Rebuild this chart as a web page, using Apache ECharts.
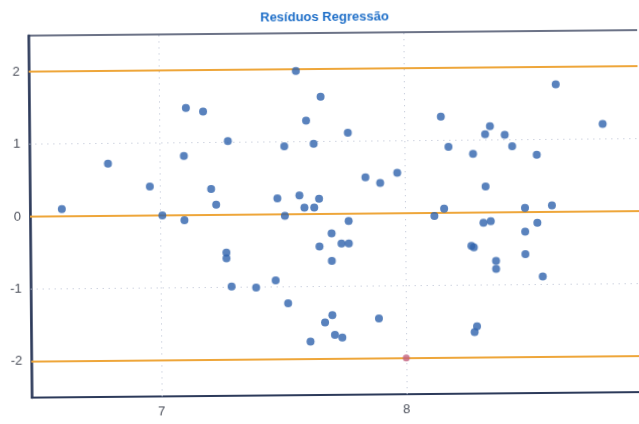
<!DOCTYPE html>
<html>
<head>
<meta charset="utf-8">
<script src="https://cdn.jsdelivr.net/npm/echarts@6/dist/echarts.min.js"></script>
<style>
  html, body { margin: 0; padding: 0; background: #fff; overflow: hidden; }
  #chart { width: 639px; height: 424px; transform: rotate(-0.52deg); transform-origin: 50% 50%; }
</style>
</head>
<body>
<div id="chart"></div>
<script>
// Regression residuals: fitted value (x) vs residual (y)
const fittedX = [
  6.60, 6.79, 6.96, 7.01, 7.10, 7.11, 7.10, 7.18, 7.21, 7.23,
  7.28, 7.48, 7.51, 7.51, 7.56, 7.57, 7.59, 7.60, 7.63, 7.63,
  7.65, 7.66, 7.27, 7.27, 7.29, 7.39, 7.47, 7.52, 7.61, 7.65,
  7.77, 7.84, 7.90, 7.97, 8.15, 8.18, 8.28, 8.33, 8.35, 8.41,
  8.44, 8.54, 8.62, 8.81, 8.33, 8.12, 8.16, 8.49, 8.60, 7.77,
  8.32, 8.35, 8.54, 7.70, 7.74, 7.77, 7.70, 7.70, 7.67, 7.71,
  7.74, 7.89, 8.27, 8.28, 8.37, 8.37, 8.49, 8.49, 8.56, 8.29,
  8.28
];
const residuals = [
  0.10, 0.72, 0.40, 0.00, -0.07, 1.48, 0.82, 1.43, 0.36, 0.14,
  1.02, 0.22, 0.94, -0.02, 1.98, 0.26, 0.09, 1.29, 0.97, 0.09,
  0.21, 1.62, -0.52, -0.60, -0.99, -1.01, -0.91, -1.23, -1.76, -0.45,
  1.12, 0.50, 0.42, 0.56, 1.33, 0.91, 0.81, 1.08, 1.19, 1.07,
  0.91, 0.79, 1.76, 1.21, 0.36, -0.04, 0.06, 0.06, 0.09, -0.10,
  -0.14, -0.12, -0.15, -0.27, -0.41, -0.41, -0.65, -1.40, -1.50, -1.67,
  -1.71, -1.45, -0.46, -0.48, -0.67, -0.78, -0.27, -0.58, -0.89, -1.57,
  -1.65
];
// Highlighted observation
const highlightX = [8.0];
const highlightY = [-2.0];

// Reference lines (residual limits and zero) and dotted grid positions
const limitLines = [2, 0, -2];
const gridY = [1, -1];
const gridX = [7, 8];
const yTicks = [-2, -1, 0, 1, 2];
const xTicks = [7, 8];

const points = fittedX.map((x, i) => [x, residuals[i]]);
const highlight = highlightX.map((x, i) => [x, highlightY[i]]);

const chart = echarts.init(document.getElementById('chart'), null, { renderer: 'canvas' });
const labelStyle = { color: '#4c505b', fontSize: 13, fontFamily: 'Liberation Sans, Arial, sans-serif' };

chart.setOption({
  animation: false,
  backgroundColor: '#ffffff',
  title: {
    text: 'Resíduos Regressão',
    left: 257,
    top: 6,
    textStyle: { color: '#1f6fc8', fontSize: 13, fontWeight: 'bold', fontFamily: 'Liberation Sans, Arial, sans-serif' }
  },
  grid: {
    left: 30, top: 33, width: 620, height: 362,
    outerBoundsMode: 'none',
    containLabel: false,
    show: true, borderColor: '#3c4560', borderWidth: 1.3, backgroundColor: 'transparent'
  },
  xAxis: {
    type: 'value', min: 6.47, max: 9.0,
    axisLine: { show: true, onZero: false, lineStyle: { color: '#2c3a5a', width: 2 } },
    axisTick: { show: false },
    splitLine: { show: false },
    axisLabel: { ...labelStyle, margin: 9, customValues: xTicks }
  },
  yAxis: {
    type: 'value', min: -2.5, max: 2.5,
    axisLine: { show: true, onZero: false, lineStyle: { color: '#2c3a5a', width: 2.5 } },
    axisTick: { show: false },
    splitLine: { show: false },
    axisLabel: { ...labelStyle, margin: 9, customValues: yTicks }
  },
  series: [
    {
      name: 'grade',
      type: 'scatter',
      data: [],
      silent: true,
      z: 1,
      markLine: {
        silent: true, symbol: 'none', label: { show: false }, animation: false,
        lineStyle: { color: '#b9c0d2', type: [1, 5], width: 1 },
        data: gridY.map(v => ({ yAxis: v })).concat(gridX.map(v => ({ xAxis: v })))
      }
    },
    {
      name: 'limites',
      type: 'scatter',
      data: [],
      silent: true,
      z: 2,
      markLine: {
        silent: true, symbol: 'none', label: { show: false }, animation: false,
        lineStyle: { color: '#eea63a', type: 'solid', width: 2 },
        data: limitLines.map(v => ({ yAxis: v }))
      }
    },
    {
      name: 'Resíduos',
      type: 'scatter',
      data: points,
      symbolSize: 8,
      z: 5,
      itemStyle: { color: '#2f63ad' }
    },
    {
      name: 'Destaque',
      type: 'scatter',
      data: highlight,
      symbolSize: 7,
      z: 6,
      itemStyle: { color: '#c2607e' }
    }
  ]
});
</script>
</body>
</html>
